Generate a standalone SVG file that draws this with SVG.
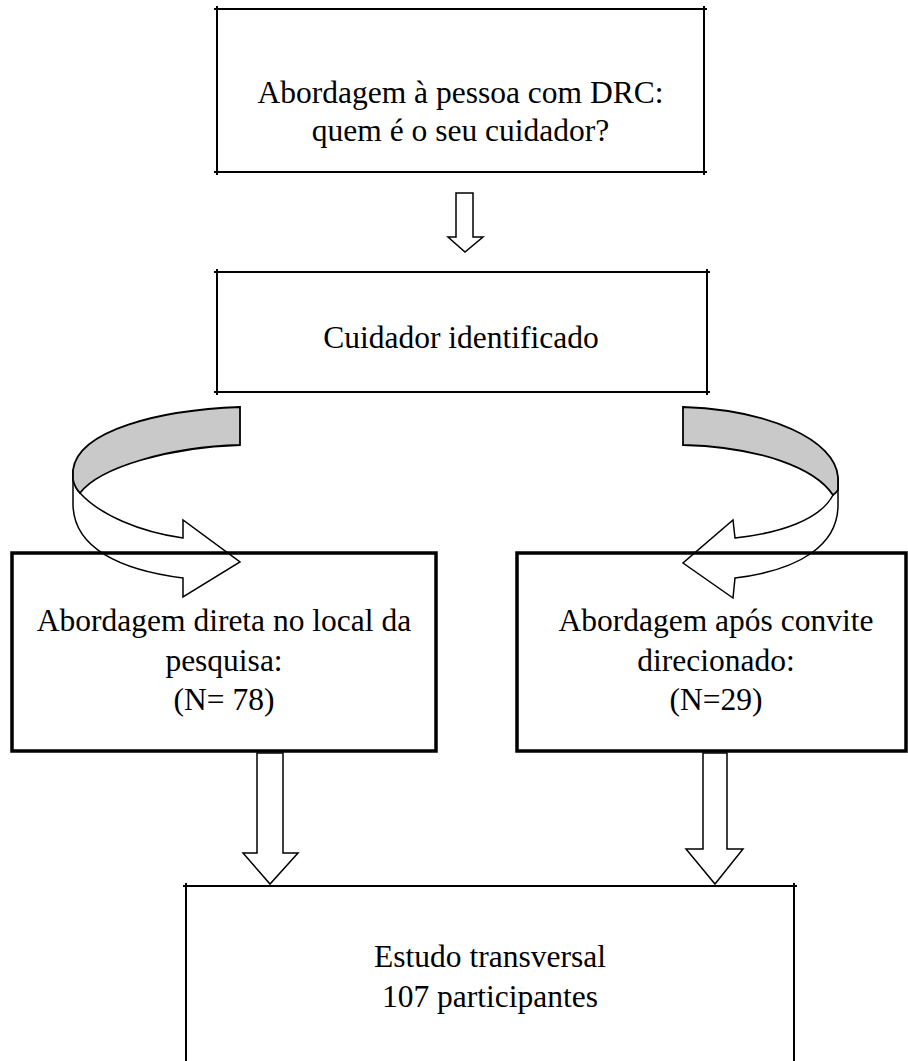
<svg xmlns="http://www.w3.org/2000/svg" width="908" height="1061" viewBox="0 0 908 1061">
<style>
.box{fill:none;stroke:#000;stroke-width:2}
.bold{stroke-width:3.5}
.t{font-family:"Liberation Serif","Times New Roman",serif;font-size:31.5px;fill:#000;text-anchor:middle}
.arr{fill:#fff;stroke:#000;stroke-width:1.5;stroke-linejoin:miter}
.band{fill:#c9c9c9;stroke:#000;stroke-width:1.8}
</style>
<rect width="908" height="1061" fill="#fff"/>
<g id="connectors">
  <path class="arr" d="M456,193 L473,193 L473,237 L483,237 L465,252 L448,237 L456,237 Z"/>
  <path class="arr" d="M80,493 C100,515 140,532 183,538 L183,520 L240,562 L183,597 L183,578 C120,570 74,548 73,505 L73,470 Z"/>
  <path class="band" d="M240,407 C160,410 78,430 73,470 L73,480 Q75,488 80,493 C100,467 170,447 240,445 Z"/>
  <path class="arr" d="M833,495 C820,520 780,533 735,538 L733,520 L683,563 L733,598 L735,578 C800,570 838,545 838,505 L838,477 Z"/>
  <path class="band" d="M683,407 C770,410 835,440 838,477 L838,490 Q836,493 833,495 C815,468 760,447 683,445 Z"/>
  <path class="arr" d="M257,753 L283,753 L283,853 L298,853 L270,884 L243,853 L257,853 Z"/>
  <path class="arr" d="M703,753 L727,753 L727,849 L743,849 L715,884 L686,849 L703,849 Z"/>
</g>
<g id="node-abordagem">
  <path class="box" d="M214,9 H707 M217,6 V175 M704,6 V175 M214,172 H707"/>
  <text class="t" x="460.5" y="103">Abordagem à pessoa com DRC:</text>
  <text class="t" x="460.5" y="141">quem é o seu cuidador?</text>
</g>
<g id="node-cuidador">
  <path class="box" d="M214,272 H710 M217,269 V395 M707,269 V395 M214,392 H710"/>
  <text class="t" x="461" y="348">Cuidador identificado</text>
</g>
<g id="node-direta">
  <rect class="box bold" x="12" y="553" width="424" height="198"/>
  <text class="t" x="224" y="631">Abordagem direta no local da</text>
  <text class="t" x="224" y="671">pesquisa:</text>
  <text class="t" x="224" y="710">(N= 78)</text>
</g>
<g id="node-convite">
  <rect class="box bold" x="517" y="553" width="389" height="198"/>
  <text class="t" x="716" y="631">Abordagem após convite</text>
  <text class="t" x="716" y="671">direcionado:</text>
  <text class="t" x="716" y="710">(N=29)</text>
</g>
<g id="node-estudo">
  <path class="box" d="M183,886 H797 M186,883 V1061 M794,883 V1061"/>
  <text class="t" x="490" y="967">Estudo transversal</text>
  <text class="t" x="490" y="1007">107 participantes</text>
</g>
</svg>
